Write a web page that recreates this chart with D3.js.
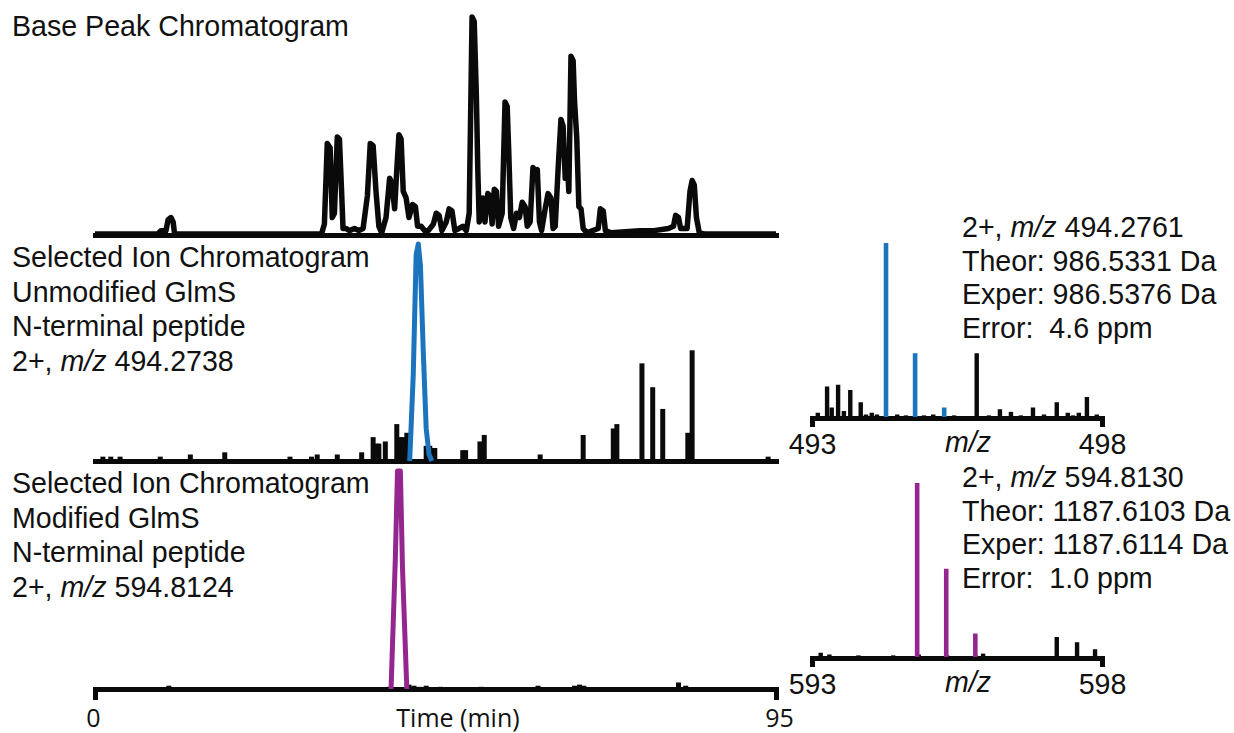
<!DOCTYPE html>
<html>
<head>
<meta charset="utf-8">
<script src="https://cdn.jsdelivr.net/npm/d3@7"></script>
<style>
  html, body { margin: 0; padding: 0; background: #fff; }
  svg { display: block; }
  text { font-family: "Liberation Sans", Arial, sans-serif; fill: #111; }
</style>
</head>
<body>
<svg id="chart" width="1234" height="733"></svg>
<script>
// ---------------- DATA ----------------
const timeRange = [0, 95];
const timeTickValues = [0, 95];
const timeAxisLabel = "Time (min)";

// Base peak chromatogram: [time (min), relative intensity %]
const basePeak = [
  [0,0.5],[8.8,0.5],[9.2,2],[9.9,2],[10.2,7],[10.6,8],[10.9,6],[11.1,0.5],
  [31.6,0.5],[32.0,5],[32.4,42],[32.8,40],[33.1,8],[33.4,10],[33.8,45],[34.1,44],[34.4,20],[34.6,3],
  [35.0,3],[35.5,2],[36.2,3],[36.8,2],
  [37.4,3],[38.0,18],[38.4,42],[38.8,41],[39.2,20],[39.6,4],[40.0,1],
  [40.6,8],[41.1,26],[41.4,24],[41.8,12],[42.1,30],[42.4,46],[42.7,44],[43.0,20],[43.4,17],[43.8,8],
  [44.3,14],[44.7,13],[45.0,4],[45.5,4],[46.0,2],[46.5,2],
  [47.2,5],[47.6,10],[48.0,9],[48.4,2],[49.0,6],[49.4,12],[49.8,11],[50.2,2],[50.8,3],[51.3,4],[51.8,2],
  [52.2,10],[52.6,100],[52.9,98],[53.2,64],[53.4,30],[53.6,6],[53.9,14],[54.1,17],[54.4,6],
  [54.8,19],[55.1,18],[55.4,5],[55.7,21],[56.0,20],[56.3,4],
  [56.8,10],[57.2,61],[57.5,59],[57.7,40],[58.0,8],[58.4,3],[58.8,10],[59.2,8],[59.6,15],[60.0,13],
  [60.3,4],[60.7,6],[61.1,31],[61.4,29],[61.7,30],[62.0,6],[62.3,2],
  [62.8,12],[63.2,19],[63.6,17],[63.9,3],[64.2,4],
  [64.6,30],[65.0,53],[65.3,50],[65.6,26],[65.9,33],[66.1,20],[66.4,82],[66.7,80],[66.9,61],[67.2,45],
  [67.5,13],[67.8,12],[68.1,3],[68.6,1],
  [70.2,3],[70.5,12],[70.9,11],[71.2,2],
  [72,1],[74,1.5],[76,2],[78,2],[80,3],
  [80.7,4],[81.0,9],[81.4,8],[81.7,3],[82.6,3],[83.0,20],[83.3,25],[83.6,23],[83.9,8],[84.3,1],
  [85,0.5],[95,0.5]
];

// Selected ion chromatogram, unmodified GlmS N-terminal peptide (blue trace)
const sicUnmodTarget = [
  [43.9,0],[44.4,40],[44.8,95],[45.1,100],[45.4,90],[45.8,50],[46.2,15],[46.6,3],[47.0,0]
];
// Other ions in the same window (black spikes): [time, intensity %]
const sicUnmodOther = [
  [1.1,2],[2.2,2],[3.5,2],[9.1,2],[13.3,3],[18.1,4],[27.2,2],[30.2,2],[31.0,3],[33.8,3],[37.2,4],
  [38.8,11],[39.3,8],[39.6,8],[40.5,9],[42.1,17],[42.6,11],[42.9,11],[43.5,13],
  [46.2,7],[46.7,7],[47.0,6],[47.4,6],[51.3,5],[51.7,5],[53.7,9],[54.3,12],[62.1,3],
  [68.1,12],[72.3,15],[72.8,17],[76.3,45],[77.8,34],[79.2,24],[82.7,13],[83.3,51],[93.9,2]
];

// Selected ion chromatogram, modified GlmS N-terminal peptide (purple trace)
const sicModTarget = [
  [41.3,0],[41.9,60],[42.2,100],[42.6,100],[42.9,55],[43.5,0]
];
const sicModOther = [
  [10.3,1.5],[41.0,1],[43.8,2],[44.5,1.5],[45.3,1],[46.2,1.5],[48.2,1],[53.9,1],[61.8,1.5],
  [66.9,1.5],[67.6,2],[68.2,1.5],[81.4,3],[82.4,1.5]
];

// Mass spectrum insets: [m/z, relative intensity %]
const ms1Range = [493, 498];
const ms1Ticks = [493, 498];
const ms1Isotopes = [[494.2761,100],[494.7776,37],[495.2790,6]];
const ms1Other = [
  [493.10,3],[493.26,18],[493.34,6],[493.45,19],[493.55,4],[493.66,16],[493.84,9],[493.93,2],
  [494.03,3],[494.12,2],[494.38,1],[494.47,2],[494.62,1.5],[494.93,1.5],[495.09,2],[495.18,1],
  [495.45,1.5],[495.62,1],[495.84,37],[496.05,1.5],[496.24,5],[496.43,3.5],[496.6,1.5],[496.81,6],
  [497.0,2],[497.22,9],[497.41,3],[497.5,1.5],[497.60,3],[497.74,12],[497.91,2]
];
const ms2Range = [593, 598];
const ms2Ticks = [593, 598];
const ms2Isotopes = [[594.8130,100],[595.3145,51],[595.8160,14]];
const ms2Other = [
  [593.15,3],[593.3,2],[593.8,1.5],[594.4,1.5],[594.84,2],[595.33,1.5],[595.82,1.5],[595.95,2.5],
  [597.22,12],[597.57,9],[597.88,5]
];

// Text blocks
const bpcTitle = ["Base Peak Chromatogram"];
const sicUnmodLabel = [
  [["Selected Ion Chromatogram", false]],
  [["Unmodified GlmS", false]],
  [["N-terminal peptide", false]],
  [["2+, ", false], ["m/z", true], [" 494.2738", false]]
];
const sicModLabel = [
  [["Selected Ion Chromatogram", false]],
  [["Modified GlmS", false]],
  [["N-terminal peptide", false]],
  [["2+, ", false], ["m/z", true], [" 594.8124", false]]
];
const ms1Label = [
  [["2+, ", false], ["m/z", true], [" 494.2761", false]],
  [["Theor: 986.5331 Da", false]],
  [["Exper: 986.5376 Da", false]],
  [["Error:  4.6 ppm", false]]
];
const ms2Label = [
  [["2+, ", false], ["m/z", true], [" 594.8130", false]],
  [["Theor: 1187.6103 Da", false]],
  [["Exper: 1187.6114 Da", false]],
  [["Error:  1.0 ppm", false]]
];
const mzAxisLabel = "m/z";

// ---------------- DRAWING ----------------
const svg = d3.select("#chart");
svg.append("rect").attr("width", 1234).attr("height", 733).attr("fill", "#fff");

const BLUE = "#1b74bd";
const PURPLE = "#93278f";
const BLACK = "#0a0a0a";
const FONT_PX = "28.6px";

const xT = d3.scaleLinear().domain(timeRange).range([95, 776]);
const yBPC = d3.scaleLinear().domain([0, 100]).range([235, 17]);
const ySIC1 = d3.scaleLinear().domain([0, 100]).range([461, 244]);
const ySIC2 = d3.scaleLinear().domain([0, 100]).range([689, 471]);

function styleAxis(g, w) {
  g.select(".domain").attr("stroke", BLACK).attr("stroke-width", w).attr("stroke-linecap", "square");
  g.selectAll(".tick line").attr("stroke", BLACK).attr("stroke-width", w);
}

// Panel 1 baseline
const ax1 = svg.append("g").attr("transform", `translate(0,${yBPC(0)})`)
  .call(d3.axisBottom(xT).tickValues([]).tickSizeOuter(0));
styleAxis(ax1, 5);

// Panel 1 trace
const lineBPC = d3.line().x(d => xT(d[0])).y(d => yBPC(d[1]));
svg.append("path").datum(basePeak)
  .attr("d", lineBPC).attr("fill", "none").attr("stroke", BLACK)
  .attr("stroke-width", 5.5).attr("stroke-linejoin", "round");

// Panel 2 baseline
const ax2 = svg.append("g").attr("transform", `translate(0,${ySIC1(0)})`)
  .call(d3.axisBottom(xT).tickValues([]).tickSizeOuter(0));
styleAxis(ax2, 5);

svg.append("g").selectAll("rect").data(sicUnmodOther).join("rect")
  .attr("x", d => xT(d[0]) - 2.5).attr("width", 5)
  .attr("y", d => ySIC1(d[1])).attr("height", d => ySIC1(0) - ySIC1(d[1]))
  .attr("fill", BLACK);

const lineSIC1 = d3.line().x(d => xT(d[0])).y(d => ySIC1(d[1]));
svg.append("path").datum(sicUnmodTarget)
  .attr("d", lineSIC1).attr("fill", "none").attr("stroke", BLUE)
  .attr("stroke-width", 5).attr("stroke-linejoin", "round");

// Panel 3 axis with end ticks
const ax3 = svg.append("g").attr("transform", `translate(0,${ySIC2(0)})`)
  .call(d3.axisBottom(xT).tickValues(timeTickValues).tickSize(11).tickSizeOuter(0).tickPadding(9));
styleAxis(ax3, 5);
ax3.selectAll(".tick text")
  .style("font-family", "'Open Sans', sans-serif").style("font-size", "25px").attr("fill", "#111")
  .attr("dx", d => d === 0 ? -2 : 3);

svg.append("g").selectAll("rect").data(sicModOther).join("rect")
  .attr("x", d => xT(d[0]) - 2.5).attr("width", 5)
  .attr("y", d => ySIC2(d[1])).attr("height", d => ySIC2(0) - ySIC2(d[1]))
  .attr("fill", BLACK);

const lineSIC2 = d3.line().x(d => xT(d[0])).y(d => ySIC2(d[1]));
svg.append("path").datum(sicModTarget)
  .attr("d", lineSIC2).attr("fill", "none").attr("stroke", PURPLE)
  .attr("stroke-width", 5).attr("stroke-linejoin", "round");

svg.append("text").text(timeAxisLabel)
  .attr("x", 458).attr("y", 727).attr("text-anchor", "middle")
  .style("font-family", "'Open Sans', sans-serif").style("font-size", "25px");

// Mass spectrum insets
function drawSpectrum(range, ticks, isotopes, others, color, base, top) {
  const x = d3.scaleLinear().domain(range).range([812, 1102]);
  const y = d3.scaleLinear().domain([0, 100]).range([base, top]);
  const g = svg.append("g");
  const ax = g.append("g").attr("transform", `translate(0,${base})`)
    .call(d3.axisBottom(x).tickValues(ticks).tickSize(9).tickSizeOuter(0).tickPadding(7)
      .tickFormat(d3.format("d")));
  styleAxis(ax, 5);
  ax.selectAll(".tick text").style("font-family", "'Liberation Sans', Arial, sans-serif")
    .style("font-size", FONT_PX).attr("fill", "#111");
  g.append("g").selectAll("rect").data(others).join("rect")
    .attr("x", d => x(d[0]) - 2.2).attr("width", 4.4)
    .attr("y", d => y(d[1])).attr("height", d => y(0) - y(d[1])).attr("fill", BLACK);
  g.append("g").selectAll("rect").data(isotopes).join("rect")
    .attr("x", d => x(d[0]) - 2.3).attr("width", 4.6)
    .attr("y", d => y(d[1])).attr("height", d => y(0) - y(d[1]) - 1).attr("fill", color);
  g.append("text").text(mzAxisLabel).attr("x", 968).attr("y", base + 34)
    .attr("text-anchor", "middle").style("font-size", FONT_PX).style("font-style", "italic");
}
drawSpectrum(ms1Range, ms1Ticks, ms1Isotopes, ms1Other, BLUE, 418, 243);
drawSpectrum(ms2Range, ms2Ticks, ms2Isotopes, ms2Other, PURPLE, 658, 483);

// Text blocks
function textBlock(lines, x, y0, dy) {
  const t = svg.append("text").attr("x", x).attr("y", y0)
    .style("font-size", FONT_PX).style("white-space", "pre").attr("xml:space", "preserve");
  lines.forEach((parts, i) => {
    parts.forEach((p, j) => {
      const ts = t.append("tspan").text(p[0]);
      if (j === 0) ts.attr("x", x).attr("y", y0 + i * dy);
      if (p[1]) ts.style("font-style", "italic");
    });
  });
}
textBlock(bpcTitle.map(s => [[s, false]]), 12, 36, 34);
textBlock(sicUnmodLabel, 12, 267, 34.5);
textBlock(sicModLabel, 12, 493, 34.5);
textBlock(ms1Label, 962, 237, 33.7);
textBlock(ms2Label, 962, 487, 33.7);
</script>
</body>
</html>
